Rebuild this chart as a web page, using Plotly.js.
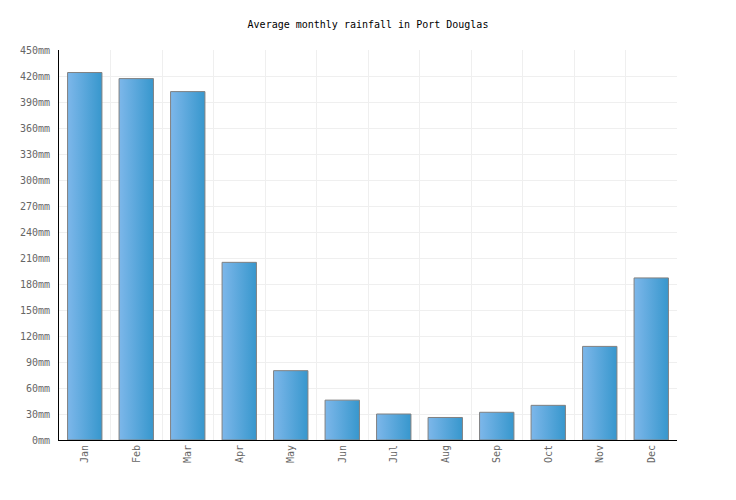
<!DOCTYPE html>
<html>
<head>
<meta charset="utf-8">
<script src="https://cdn.plot.ly/plotly-3.0.1.min.js"></script>
<style>html,body{margin:0;padding:0;background:#fff;}#chart{width:736px;height:500px;}</style>
</head>
<body>
<div id="chart"></div>
<script>
const months = ["Jan","Feb","Mar","Apr","May","Jun","Jul","Aug","Sep","Oct","Nov","Dec"];
const rainfall = [424, 417, 402, 205, 80, 46, 30, 26, 32, 40, 108, 187];
const yTicks = [0,30,60,90,120,150,180,210,240,270,300,330,360,390,420,450];
const titleText = "Average monthly rainfall in Port Douglas";

const font = "DejaVu Sans Mono, Liberation Mono, monospace";

const trace = {
  type: "bar",
  x: months,
  y: rainfall,
  marker: {color: "#5aa6dc", line: {color: "#808080", width: 1}},
  hoverinfo: "x+y"
};

const layout = {
  width: 736, height: 500,
  margin: {l: 59, r: 59, t: 50, b: 60},
  paper_bgcolor: "#fff", plot_bgcolor: "#fff",
  bargap: 0.333,
  showlegend: false,
  title: {text: titleText, x: 0.5, xanchor: "center", y: 0.952, yanchor: "middle",
          font: {family: font, size: 10, color: "#000"}},
  xaxis: {
    type: "category",
    tickson: "boundaries",
    showgrid: true, gridcolor: "#efefef", gridwidth: 1,
    showline: true, linecolor: "#000", linewidth: 1,
    ticks: "outside", ticklen: 5, tickcolor: "rgba(0,0,0,0)",
    tickangle: -90,
    tickfont: {family: font, size: 10, color: "#666"},
    mirror: false
  },
  yaxis: {
    range: [0, 450],
    tickvals: yTicks,
    ticktext: yTicks.map(v => v + "mm"),
    showgrid: true, gridcolor: "#efefef", gridwidth: 1,
    showline: true, linecolor: "#000", linewidth: 1,
    zeroline: false,
    ticks: "outside", ticklen: 6, tickcolor: "rgba(0,0,0,0)",
    tickfont: {family: font, size: 10, color: "#666"}
  }
};

Plotly.newPlot("chart", [trace], layout, {displayModeBar: false, staticPlot: true}).then(function(gd){
  const svg = gd.querySelector("svg.main-svg");
  const ns = "http://www.w3.org/2000/svg";
  let defs = svg.querySelector("defs");
  if (!defs) { defs = document.createElementNS(ns, "defs"); svg.insertBefore(defs, svg.firstChild); }
  const grad = document.createElementNS(ns, "linearGradient");
  grad.setAttribute("id", "barGrad");
  grad.setAttribute("x1", "0"); grad.setAttribute("y1", "0");
  grad.setAttribute("x2", "1"); grad.setAttribute("y2", "0");
  [["0%", "#7db7ea"], ["100%", "#3797cd"]].forEach(function(s){
    const st = document.createElementNS(ns, "stop");
    st.setAttribute("offset", s[0]); st.setAttribute("stop-color", s[1]);
    grad.appendChild(st);
  });
  defs.appendChild(grad);
  gd.querySelectorAll(".barlayer .point path").forEach(function(p){
    p.style.fill = "url(#barGrad)";
  });
});
</script>
</body>
</html>
